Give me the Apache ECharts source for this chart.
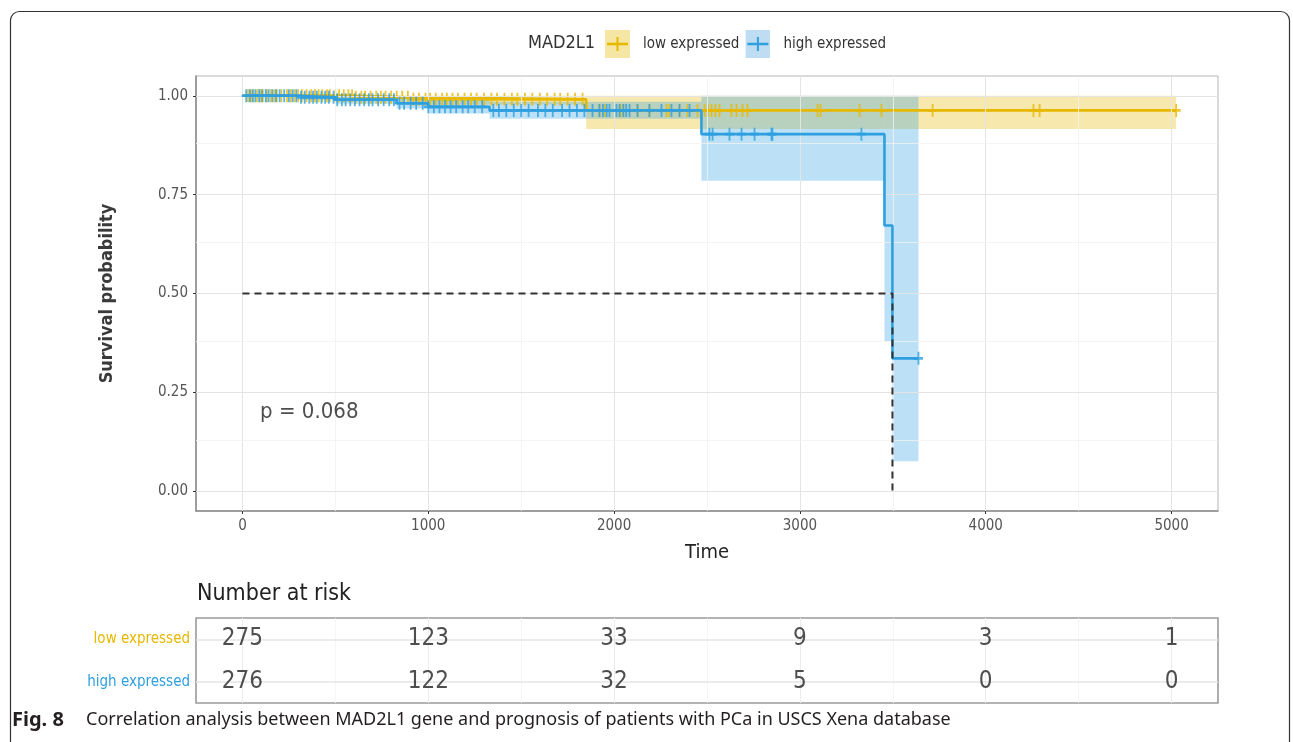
<!DOCTYPE html>
<html><head><meta charset="utf-8">
<script src="https://cdn.jsdelivr.net/npm/echarts@6/dist/echarts.min.js"></script>
<style>html,body{margin:0;padding:0;background:#fff}#c{width:1293px;height:742px}</style>
</head><body><div id="c"></div>
<script>
const FONT = "'Liberation Sans Narrow', 'DejaVu Sans Condensed', 'Noto Sans', sans-serif";
const CAPFONT = "'Noto Sans', sans-serif";
const groups = ['low expressed', 'high expressed'];
const colors = ['#E7B800', '#2E9FDF'];
const legendTitle = 'MAD2L1';
const xTicks = [0, 1000, 2000, 3000, 4000, 5000];
const xMinor = [500, 1500, 2500, 3500, 4500];
const yTicks = [0, 0.25, 0.5, 0.75, 1];
const yMinor = [0.125, 0.375, 0.625, 0.875];
// Kaplan-Meier steps: [time, survival] (value holds until next time)
const lowSteps = [[0, 1], [600, 0.996], [900, 0.991], [1850, 0.963], [5025, 0.963]];
const highSteps = [[0, 1], [300, 0.996], [500, 0.99], [830, 0.981], [1000, 0.972], [1330, 0.963], [2470, 0.903], [3455, 0.672], [3498, 0.336], [3638, 0.336]];
// confidence bands: [t0, t1, lower, upper]
const lowCI = [[600, 900, 0.99, 1], [900, 1850, 0.978, 1], [1850, 5025, 0.916, 1]];
const highCI = [[300, 500, 0.99, 1], [500, 830, 0.98, 1], [830, 1000, 0.968, 0.995], [1000, 1330, 0.955, 0.99], [1330, 2470, 0.942, 0.985], [2470, 3455, 0.785, 1], [3455, 3498, 0.38, 1], [3498, 3638, 0.076, 1]];
// censoring times
const lowCensor = [30, 45, 60, 80, 95, 110, 130, 150, 170, 185, 210, 240, 260, 280, 300, 320, 345, 370, 390, 410, 430, 455, 470, 500, 520, 545, 570, 590, 610, 640, 660, 690, 720, 745, 770, 800, 830, 860, 890, 920, 950, 985, 1010, 1040, 1075, 1100, 1130, 1160, 1195, 1230, 1260, 1300, 1340, 1370, 1410, 1450, 1480, 1520, 1560, 1600, 1640, 1680, 1710, 1750, 1790, 1830, 1921, 1948, 2029, 2045, 2126, 2190, 2282, 2298, 2352, 2395, 2449, 2487, 2505, 2524, 2545, 2567, 2632, 2659, 2691, 2718, 3095, 3111, 3321, 3439, 3714, 4257, 4290, 5025];
const highCensor = [20, 40, 55, 70, 90, 105, 125, 140, 160, 180, 200, 225, 250, 270, 290, 315, 335, 360, 380, 400, 425, 445, 465, 490, 510, 535, 555, 580, 605, 630, 655, 680, 700, 730, 760, 790, 815, 845, 870, 905, 935, 970, 1000, 1030, 1060, 1090, 1120, 1150, 1185, 1215, 1250, 1290, 1350, 1380, 1420, 1460, 1500, 1540, 1590, 1630, 1670, 1720, 1760, 1800, 1840, 1884, 1921, 1940, 1960, 1975, 2013, 2030, 2050, 2065, 2083, 2126, 2190, 2255, 2309, 2352, 2406, 2513, 2530, 2621, 2686, 2756, 2847, 2852, 3331, 3638];
const medianTime = 3498;
const pText = 'p = 0.068';
const riskTimes = [0, 1000, 2000, 3000, 4000, 5000];
const riskLow = [275, 123, 33, 9, 3, 1];
const riskHigh = [276, 122, 32, 5, 0, 0];
const figLabel = 'Fig. 8';
const caption = 'Correlation analysis between MAD2L1 gene and prognosis of patients with PCa in USCS Xena database';

function survAt(steps, t) {
  let s = steps[0][1];
  for (const [tt, v] of steps) { if (t >= tt) s = v; }
  return s;
}
const plusPath = 'path://M4,0 H6 V4 H10 V6 H6 V10 H4 V6 H0 V4 H4 Z';
function bandSeries(name, data, color) {
  return {
    type: 'custom', name: name + ' CI', xAxisIndex: 0, yAxisIndex: 0, silent: true, z: 1,
    data: data, encode: { x: [0, 1], y: [2, 3] },
    renderItem: function (params, api) {
      const p0 = api.coord([api.value(0), api.value(3)]);
      const p1 = api.coord([api.value(1), api.value(2)]);
      return { type: 'rect', shape: { x: p0[0], y: p0[1], width: p1[0] - p0[0], height: p1[1] - p0[1] }, style: { fill: color } };
    }
  };
}
function legendIcon(fill, stroke) {
  const svg = "<svg xmlns='http://www.w3.org/2000/svg' width='25' height='28'><rect width='25' height='28' fill='" + fill + "'/><line x1='2' y1='14' x2='23' y2='14' stroke='" + stroke + "' stroke-width='2.6'/><line x1='12.5' y1='7' x2='12.5' y2='21' stroke='" + stroke + "' stroke-width='2'/></svg>";
  return 'image://data:image/svg+xml;charset=utf-8,' + encodeURIComponent(svg);
}
const gridLineData = [].concat(
  xTicks.map(v => ({ xAxis: v, lineStyle: { color: '#e4e4e4', width: 1, type: 'solid' } })),
  xMinor.map(v => ({ xAxis: v, lineStyle: { color: '#f1f1f1', width: 0.8, type: 'solid' } })),
  yTicks.map(v => ({ yAxis: v, lineStyle: { color: '#e4e4e4', width: 1, type: 'solid' } })),
  yMinor.map(v => ({ yAxis: v, lineStyle: { color: '#f1f1f1', width: 0.8, type: 'solid' } }))
);
const tableGridData = [].concat(
  xTicks.map(v => ({ xAxis: v, lineStyle: { color: '#ececec', width: 1, type: 'solid' } })),
  xMinor.map(v => ({ xAxis: v, lineStyle: { color: '#f4f4f4', width: 0.8, type: 'solid' } })),
  groups.map(g => ({ yAxis: g, lineStyle: { color: '#e4e4e4', width: 1.5, type: 'solid' } }))
);

const chart = echarts.init(document.getElementById('c'), null, { renderer: 'canvas' });
chart.setOption({
  animation: false,
  textStyle: { fontFamily: FONT },
  grid: [
    { left: 196, right: 75, top: 76, bottom: 231, show: true, borderColor: '#b5b5b5', borderWidth: 1 },
    { left: 196, right: 75, top: 618, bottom: 39, show: true, borderColor: '#9a9a9a', borderWidth: 1.6 }
  ],
  legend: {
    left: 600, top: 25, itemWidth: 25, itemHeight: 28, itemGap: 6,
    textStyle: { fontFamily: FONT, fontSize: 15, color: '#333', padding: [0, 0, 0, 8] },
    data: [
      { name: groups[0], icon: legendIcon('#F6E6A4', colors[0]) },
      { name: groups[1], icon: legendIcon('#BFDDF2', colors[1]) }
    ]
  },
  xAxis: [
    { type: 'value', gridIndex: 0, min: -250, max: 5250,
      name: 'Time', nameLocation: 'middle', nameGap: 32, nameTextStyle: { fontFamily: FONT, fontSize: 20, color: '#222' },
      axisLine: { show: true, onZero: false, lineStyle: { color: '#8a8a8a', width: 1.5 } },
      axisTick: { show: true, length: 3, customValues: xTicks, lineStyle: { color: '#333' } },
      axisLabel: { customValues: xTicks, margin: 8, fontSize: 15, color: '#555', fontFamily: FONT, formatter: v => String(v) },
      splitLine: { show: false } },
    { type: 'value', gridIndex: 1, min: -250, max: 5250,
      axisLine: { show: false }, axisTick: { show: false }, axisLabel: { show: false }, splitLine: { show: false } }
  ],
  yAxis: [
    { type: 'value', gridIndex: 0, min: -0.05, max: 1.05,
      name: 'Survival probability', nameLocation: 'middle', nameGap: 80, nameRotate: 90,
      nameTextStyle: { fontFamily: FONT, fontSize: 18, color: '#3a3a3a', fontWeight: 'bold' },
      axisLine: { show: true, onZero: false, lineStyle: { color: '#8a8a8a', width: 1.5 } },
      axisTick: { show: true, length: 3, customValues: yTicks, lineStyle: { color: '#333' } },
      axisLabel: { customValues: yTicks, margin: 8, fontSize: 15, color: '#555', fontFamily: FONT, formatter: v => v.toFixed(2) },
      splitLine: { show: false } },
    { type: 'category', gridIndex: 1, data: groups, inverse: true,
      axisLine: { show: false }, axisTick: { show: false }, splitLine: { show: false },
      axisLabel: { margin: 6, fontSize: 15, fontFamily: FONT,
        formatter: v => (v === groups[0] ? '{a|' + v + '}' : '{b|' + v + '}'),
        rich: { a: { color: colors[0], fontSize: 15, fontFamily: FONT }, b: { color: colors[1], fontSize: 15, fontFamily: FONT } } } }
  ],
  graphic: [
    { type: 'rect', left: 8, top: 9, silent: true, shape: { width: 1279, height: 780, r: 9 }, style: { fill: 'none', stroke: '#333', lineWidth: 1.2 } },
    { type: 'text', left: 528, top: 34, style: { text: legendTitle, font: '18px ' + FONT, fill: '#333' } },
    { type: 'text', left: 197, top: 583, style: { text: 'Number at risk', font: '23px ' + FONT, fill: '#222' } },
    { type: 'text', left: 12, top: 710, style: { text: figLabel, font: 'bold 20px ' + CAPFONT, fill: '#231f20' } },
    { type: 'text', left: 86, top: 711, style: { text: caption, font: '18px ' + CAPFONT, fill: '#231f20' } }
  ],
  series: [
    { type: 'line', name: 'grid', xAxisIndex: 0, yAxisIndex: 0, data: [], silent: true, z: 0,
      markLine: { silent: true, symbol: 'none', label: { show: false }, animation: false, lineStyle: { type: 'solid' }, data: gridLineData } },
    { type: 'line', name: 'tablegrid', xAxisIndex: 1, yAxisIndex: 1, data: [], silent: true, z: 0,
      markLine: { silent: true, symbol: 'none', label: { show: false }, animation: false, lineStyle: { type: 'solid' }, data: tableGridData } },
    bandSeries(groups[0], lowCI, 'rgba(231,184,0,0.32)'),
    bandSeries(groups[1], highCI, 'rgba(46,159,223,0.32)'),
    { type: 'line', name: groups[0], xAxisIndex: 0, yAxisIndex: 0, step: 'end', data: lowSteps, showSymbol: false, symbol: 'none', z: 3,
      lineStyle: { color: colors[0], width: 2.6 }, itemStyle: { color: colors[0] } },
    { type: 'scatter', name: groups[0] + ' censor', xAxisIndex: 0, yAxisIndex: 0, symbol: plusPath, symbolSize: [9, 13], z: 4,
      itemStyle: { color: colors[0] }, data: lowCensor.map(t => [t, survAt(lowSteps, t)]) },
    { type: 'line', name: groups[1], xAxisIndex: 0, yAxisIndex: 0, step: 'end', data: highSteps, showSymbol: false, symbol: 'none', z: 5,
      lineStyle: { color: colors[1], width: 2.6 }, itemStyle: { color: colors[1] } },
    { type: 'scatter', name: groups[1] + ' censor', xAxisIndex: 0, yAxisIndex: 0, symbol: plusPath, symbolSize: [9, 13], z: 6,
      itemStyle: { color: colors[1] }, data: highCensor.map(t => [t, survAt(highSteps, t)]) },
    { type: 'line', name: 'median', xAxisIndex: 0, yAxisIndex: 0, data: [[0, 0.5], [medianTime, 0.5], [medianTime, 0]], symbol: 'none', z: 7,
      lineStyle: { color: '#333', width: 2, type: [7, 5] } },
    { type: 'scatter', name: 'pvalue', xAxisIndex: 0, yAxisIndex: 0, data: [[95, 0.2]], symbolSize: 0, z: 8, silent: true,
      label: { show: true, position: 'right', distance: 0, formatter: pText, fontSize: 22, color: '#222', fontFamily: FONT } },
    { type: 'scatter', name: 'risk low', xAxisIndex: 1, yAxisIndex: 1, symbolSize: 0, silent: true, z: 5,
      data: riskTimes.map((t, i) => [t, groups[0], riskLow[i]]),
      label: { show: true, position: 'inside', formatter: p => String(p.value[2]), fontSize: 24, color: '#222', fontFamily: FONT } },
    { type: 'scatter', name: 'risk high', xAxisIndex: 1, yAxisIndex: 1, symbolSize: 0, silent: true, z: 5,
      data: riskTimes.map((t, i) => [t, groups[1], riskHigh[i]]),
      label: { show: true, position: 'inside', formatter: p => String(p.value[2]), fontSize: 24, color: '#222', fontFamily: FONT } }
  ]
});
</script></body></html>
